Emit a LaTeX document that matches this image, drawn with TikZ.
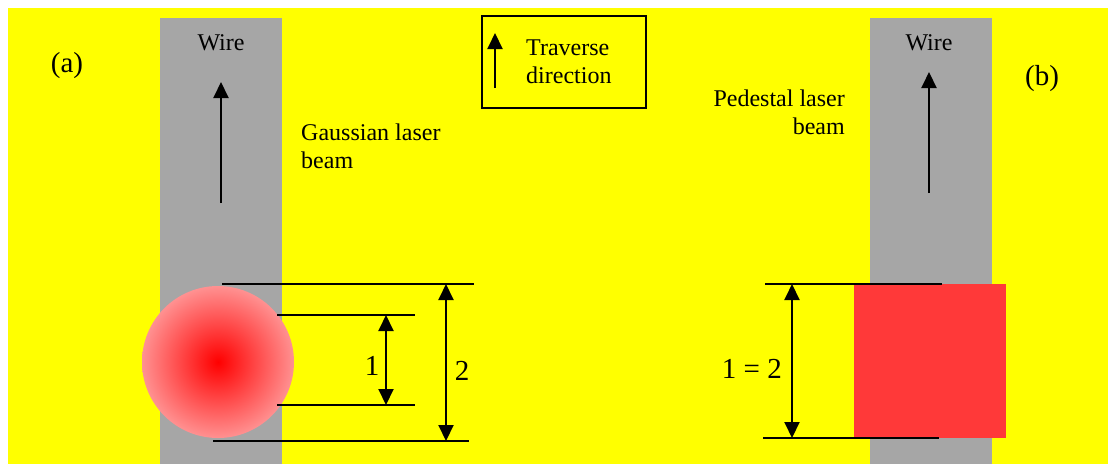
\documentclass[tikz,border=0pt]{standalone}
\usepackage{fontspec}
\setmainfont{Liberation Serif}
\newfontfamily\timesfont{Liberation Serif}
\usetikzlibrary{arrows.meta, positioning}
\definecolor{bgyellow}{RGB}{255,255,0}
\definecolor{wiregray}{RGB}{166,166,166}
\definecolor{pedred}{RGB}{255,57,57}
\definecolor{gaussedge}{RGB}{255,145,145}

\begin{document}
\begin{tikzpicture}[
  x=1pt, y=-1pt,
  wire/.style={fill=wiregray, draw=none, inner sep=0pt, anchor=north west,
               minimum width=122pt, minimum height=446pt},
  txt/.style={font=\timesfont\fontsize{24}{28}\selectfont, inner sep=0pt},
  big/.style={font=\timesfont\fontsize{29}{32}\selectfont, inner sep=0pt},
  rule/.style={line width=2pt},
  arr/.style={line width=2pt, -{Triangle[length=16pt, width=15pt]}},
  dimarr/.style={line width=2pt,
                 {Triangle[length=16pt, width=15pt]}-{Triangle[length=16pt, width=15pt]}},
]
  \useasboundingbox (0,0) rectangle (1108,464);
  \fill[bgyellow] (8,8) rectangle (1108,464);

  % Wires
  \node[wire] (wireA) at (160,18) {};
  \node[wire] (wireB) at (870,18) {};
  \node[txt, anchor=base] (wireAlbl) at (221,50) {Wire};
  \node[txt, anchor=base] (wireBlbl) at (929,50) {Wire};
  \coordinate (wireAfrom) at (221,203);
  \coordinate (wireAto) at (221,82);
  \coordinate (wireBfrom) at (929,193);
  \coordinate (wireBto) at (929,72);
  \draw[arr] (wireAfrom) -- (wireAto);
  \draw[arr] (wireBfrom) -- (wireBto);

  % Panel labels
  \node[big, anchor=base] (panelA) at (67,72) {(a)};
  \node[big, anchor=base] (panelB) at (1042,85) {(b)};

  % Legend
  \node[draw, line width=1.7pt, minimum width=164pt, minimum height=92pt,
        inner sep=0pt, anchor=north west] (legend) at (481,15) {};
  \coordinate (legfrom) at (495,88);
  \coordinate (legto) at (495,33);
  \draw[arr] (legfrom) -- (legto);
  \node[txt, anchor=base west, align=left] (legtxt) at (526,83) {Traverse\\direction};

  % Beam labels
  \node[txt, anchor=base west, align=left] (gausslbl) at (301,168) {Gaussian laser\\beam};
  \node[txt, anchor=base east, align=right] (pedlbl) at (845,134) {Pedestal laser\\beam};

  % Gaussian beam (a)
  \node[circle, minimum size=152pt, inner sep=0pt, draw=none,
        inner color=red, outer color=gaussedge] (gauss) at (218,362) {};

  \coordinate (outTopL) at (222,284);
  \coordinate (outTopR) at (474,284);
  \coordinate (inTopL) at (277,315);
  \coordinate (inTopR) at (415,315);
  \coordinate (inBotL) at (277,405);
  \coordinate (inBotR) at (415,405);
  \coordinate (outBotL) at (213,441);
  \coordinate (outBotR) at (469,441);
  \draw[rule] (outTopL) -- (outTopR);
  \draw[rule] (inTopL) -- (inTopR);
  \draw[rule] (inBotL) -- (inBotR);
  \draw[rule] (outBotL) -- (outBotR);

  \coordinate (oneTop) at (386,315);
  \coordinate (oneBot) at (386,405);
  \coordinate (twoTop) at (446,284);
  \coordinate (twoBot) at (446,441);
  \draw[dimarr] (oneTop) -- (oneBot);
  \draw[dimarr] (twoTop) -- (twoBot);
  \node[big, anchor=base] (onelbl) at (372,375) {1};
  \node[big, anchor=base] (twolbl) at (462,380) {2};

  % Pedestal beam (b)
  \node[fill=pedred, draw=none, inner sep=0pt, minimum width=152pt,
        minimum height=154pt, anchor=north west] (ped) at (854,284) {};

  \coordinate (pedTopL) at (765,284);
  \coordinate (pedTopR) at (942,284);
  \coordinate (pedBotL) at (763,438);
  \coordinate (pedBotR) at (939,438);
  \draw[rule] (pedTopL) -- (pedTopR);
  \draw[rule] (pedBotL) -- (pedBotR);
  \coordinate (eqTop) at (792,284);
  \coordinate (eqBot) at (792,438);
  \draw[dimarr] (eqTop) -- (eqBot);
  \node[big, anchor=base east] (eqlbl) at (782,378) {1 = 2};
\end{tikzpicture}
\end{document}
